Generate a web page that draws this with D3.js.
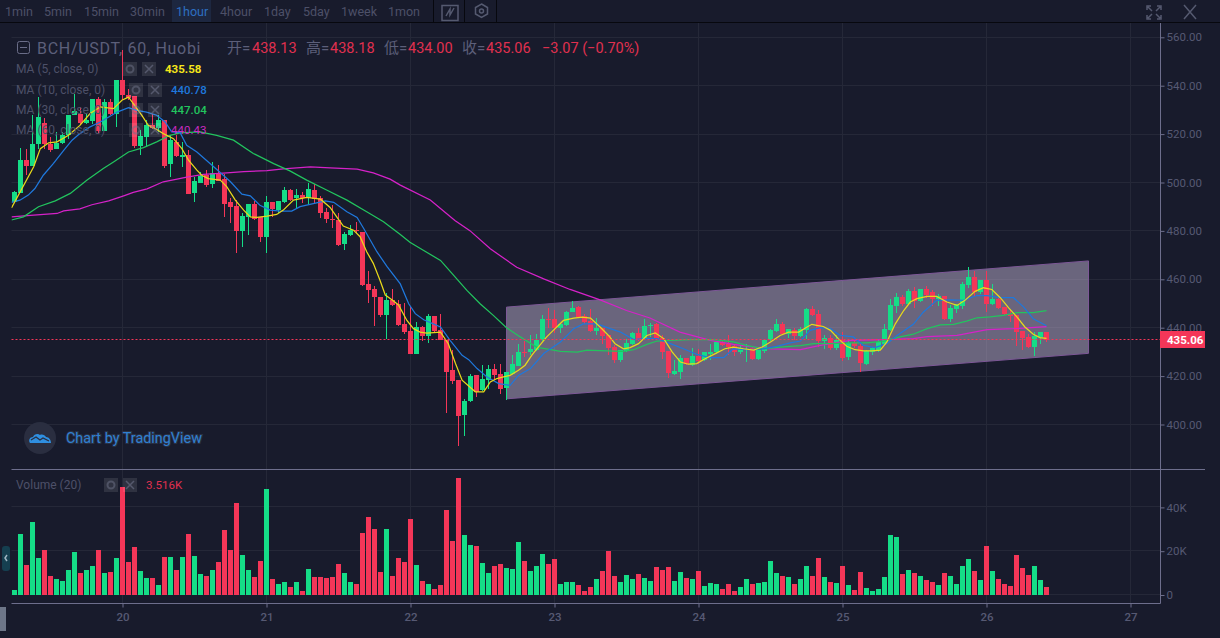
<!DOCTYPE html>
<html>
<head>
<meta charset="utf-8">
<title>BCH/USDT</title>
<script src="https://d3js.org/d3.v7.min.js"></script>
<style>
html, body { margin: 0; padding: 0; background: #181b2c; overflow: hidden; }
svg { display: block; }
text { font-family: Roboto, "Noto Sans CJK SC", sans-serif; }
</style>
</head>
<body>
<div id="chart"></div>
<script>
// hourly candles, bar 0 is the first one on the left
var opens = [
  492.0,495.7,509.2,506.7,516.1,524.7,516.1,513.7,516.4,519.5,
  528.0,528.5,524.6,525.4,534.4,521.3,533.3,528.5,542.2,536.0,
  535.6,515.0,518.8,523.6,522.7,526.0,507.6,516.9,510.6,511.3,
  495.5,500.0,503.0,499.2,504.0,501.6,491.9,490.2,480.1,485.8,
  491.1,485.6,477.6,491.9,488.6,491.9,496.8,493.4,494.8,493.5,
  497.1,493.5,487.8,485.1,484.7,474.6,478.3,480.2,479.7,457.9,
  455.9,452.6,445.3,451.5,449.7,441.4,438.5,429.3,440.1,436.4,
  444.7,438.9,435.1,422.4,418.3,403.8,409.6,420.3,414.2,418.3,
  422.8,420.8,415.0,420.8,424.1,429.8,429.8,430.7,434.8,443.8,
  443.8,440.0,441.0,446.3,448.4,444.9,442.6,438.5,439.7,436.8,
  431.9,426.5,430.2,433.1,437.7,435.2,440.5,441.4,435.6,430.2,
  420.8,421.6,427.4,424.5,428.2,426.5,429.0,429.8,434.0,433.1,
  432.3,429.8,430.7,431.5,426.9,430.2,434.8,438.5,441.4,437.3,
  438.9,436.4,438.9,447.8,445.5,434.5,435.6,431.5,434.8,427.8,
  433.5,432.3,424.9,429.8,430.9,433.1,438.9,448.8,452.5,449.6,
  455.0,450.9,455.8,454.6,451.7,453.3,443.4,447.6,448.8,457.5,
  460.8,454.6,459.9,449.6,451.7,448.4,445.8,445.1,438.5,436.0,
  431.9,436.0,438.13
];
var highs = [
  496.5,514.3,513.7,527.8,535.3,526.8,518.8,520.9,520.9,528.0,
  536.4,531.2,528.5,534.6,535.3,534.6,534.6,542.2,554.6,538.8,
  535.6,521.6,525.7,528.2,527.8,526.0,519.5,519.5,516.8,513.3,
  502.3,504.4,505.1,508.5,507.1,503.7,493.4,492.7,487.2,491.3,
  492.3,485.6,494.4,491.9,492.3,498.2,497.4,497.5,496.2,499.6,
  499.3,494.6,489.3,490.6,487.2,479.7,482.4,483.8,479.7,463.4,
  457.3,452.6,454.2,456.0,451.5,450.4,448.5,442.3,440.5,445.5,
  444.7,445.5,435.1,430.9,418.3,410.5,420.8,420.3,424.5,424.5,
  424.9,424.9,421.6,428.6,433.1,434.4,436.8,437.3,445.1,448.2,
  447.4,441.6,447.1,450.9,448.8,445.5,447.8,444.1,440.0,436.8,
  432.7,430.9,435.5,438.2,440.0,443.7,441.9,441.9,436.8,430.2,
  426.5,428.6,427.4,431.5,431.3,429.8,433.1,434.4,434.8,436.8,
  433.1,432.7,433.1,432.0,430.9,435.1,439.6,443.4,442.2,439.6,
  439.9,440.3,448.1,448.8,447.4,436.8,436.8,436.8,438.1,434.8,
  434.8,433.7,430.7,432.0,434.8,441.6,451.7,454.2,453.5,455.8,
  457.0,456.1,457.2,455.4,454.0,453.3,449.2,449.9,458.7,464.9,
  463.6,459.9,463.6,457.9,452.9,448.4,447.4,445.1,438.5,437.5,
  438.2,438.1,438.18
];
var lows = [
  491.7,495.7,503.0,506.7,514.0,513.7,512.6,513.7,516.1,518.1,
  527.8,523.6,524.3,524.3,520.2,521.3,527.8,523.0,534.0,534.0,
  514.4,511.3,514.7,522.3,520.9,505.8,502.3,510.6,506.5,495.3,
  492.0,499.6,498.2,497.9,500.5,485.8,483.4,470.7,473.5,478.3,
  484.7,475.5,470.7,485.6,487.2,491.6,492.4,488.9,491.6,491.1,
  491.1,485.3,483.1,481.3,473.9,472.1,478.0,479.0,457.4,450.4,
  440.5,444.6,435.3,449.0,440.5,437.5,429.0,429.0,434.5,433.7,
  438.2,434.8,404.8,416.9,391.1,395.2,409.3,411.4,413.9,414.8,
  418.3,412.5,410.0,420.3,424.1,427.9,428.6,430.4,434.5,440.0,
  437.9,437.9,440.8,446.3,444.1,441.6,438.2,436.8,433.1,428.9,
  425.4,425.7,429.8,432.7,434.5,435.1,436.2,434.8,426.9,419.2,
  420.6,418.8,424.5,424.1,425.2,426.1,426.8,429.3,432.3,428.6,
  428.2,429.3,425.8,426.5,426.5,429.6,434.5,438.2,437.0,435.6,
  434.8,436.2,435.5,444.7,432.0,431.2,430.9,430.9,426.1,426.5,
  431.5,421.6,424.7,428.9,430.0,432.7,438.5,446.0,448.8,449.3,
  448.0,450.6,452.4,448.8,448.8,443.3,442.2,446.2,447.6,456.6,
  452.9,453.9,446.3,449.5,447.8,445.1,442.3,432.3,430.7,431.8,
  428.2,433.1,434.00
];
var closes = [
  496.2,509.2,506.7,516.1,527.1,515.8,513.3,516.4,519.5,528.0,
  529.5,524.6,525.7,534.4,521.3,533.3,528.5,542.2,536.0,535.1,
  515.1,519.1,523.6,522.7,525.7,506.9,517.5,510.9,511.3,495.3,
  500.5,502.7,498.9,504.0,500.5,491.3,489.7,480.1,486.1,491.3,
  485.1,477.6,491.9,488.9,492.3,496.8,492.7,494.8,493.4,497.2,
  493.1,487.4,484.9,484.5,474.2,478.7,480.3,479.8,457.7,455.6,
  452.8,445.3,451.5,449.4,441.2,438.1,429.3,440.1,436.4,444.7,
  438.5,435.1,421.6,417.9,403.4,409.6,419.9,413.5,418.7,422.8,
  420.3,414.6,421.6,424.9,429.8,429.4,431.1,434.8,443.8,443.4,
  440.0,441.4,446.3,448.2,444.4,442.2,438.5,439.7,436.4,431.5,
  426.5,430.7,433.5,437.7,434.8,440.5,441.0,435.2,430.1,421.2,
  422.0,427.4,424.9,428.2,426.1,429.8,429.8,434.0,432.7,431.9,
  429.8,431.5,431.1,426.9,430.7,434.8,438.9,441.4,437.3,439.3,
  436.4,439.3,447.6,445.1,434.4,435.6,431.5,434.8,427.4,433.5,
  432.3,425.3,430.2,431.5,434.0,439.3,449.2,452.5,449.6,455.0,
  450.9,455.8,453.7,451.7,453.3,443.4,448.0,449.6,457.9,460.8,
  454.6,459.9,449.8,451.7,448.0,445.5,444.7,438.1,435.6,431.9,
  436.4,438.1,435.06
];
// volume in thousands
var volumes = [
  2.3,27.7,13.6,33.2,16.8,20.5,8.6,7.3,6.4,11.4,
  19.5,10,11.4,13.2,20.5,10,10.5,16.8,49.5,15,
  21.8,10.9,7.7,7.7,4.5,17.3,17.3,11.4,17.3,27.7,
  17.7,9.5,8.6,11.4,15,29.5,20.5,41.8,18.2,11.4,
  8.2,15.5,48.2,7.3,5,5.9,3.6,5.9,1.8,11.8,
  8.2,8.2,7.7,8.2,14.1,10,5.9,5,28.2,35.5,
  30,10.5,30,8.6,16.8,15,34.5,13.6,6.4,5,
  2.7,4.5,38.6,24.5,53.2,27.3,22.7,22.3,14.5,10,
  13.2,14.1,12.3,11.8,24.1,15.5,10.9,13.2,18.6,14.1,
  16.4,5,5.9,5.9,4.5,1.8,3.6,7.3,10.9,20,
  8.6,5.9,9.1,7.3,9.5,7.7,6.4,12.7,11.4,12.7,
  6.4,10.5,7.7,7.3,10.9,4.1,5.5,5,2.7,5,
  1.8,3.6,7.3,5,5.5,5.9,15.5,10,8.6,8.2,
  5,7.3,13.2,8.6,16.8,8.2,5.9,5.5,13.2,4.5,
  2.3,10.5,3.2,1.8,2.7,8.2,27.3,26.4,9.5,11.4,
  10,8.6,6.8,5.9,4.5,10,8.6,5,13.2,16.4,
  10.9,6.8,22.3,10.9,7.3,5,4.1,18.2,12.3,9.1,
  13.2,6.8,3.516
];

// moving averages: bar position + price
var ma5Bars = [-0.5,3.2,4.3,5.7,7.1,9,10.9,12.6,14.3,16.5,17.9,19,19.8,21.2,22.3,23.7,24.8,26.5,27.9,29,30.4,31.2,32.3,34.3,35.4,36.8,38.2,39.3,40.4,42.1,43.7,44.8,46.5,48.7,51,52.6,53.7,54.8,56.5,57.6,58.7,59.8,60.9,61.8,62.9,64,65.4,66.5,67.6,68.7,71,72.3,73.5,74.6,75.7,76.8,78.2,79.3,80.4,81.5,82.6,84,85.1,86.2,87.3,88.7,90.1,91.5,93.2,94.6,96,97.6,99,100.1,101.5,102.6,104,105.4,106.8,108.2,109.6,111,112.3,113.7,115.1,116.8,118.4,119.8,121.5,123.2,124.6,126,127.6,129,130.7,132.1,132.9,133.7,134.8,136,137.3,138.7,140.1,141.5,142.9,144.3,145.4,146.8,148.2,149.3,150.4,152.1,153.7,155.4,157.1,158.4,160.1,161.5,162.9,164.3,165.7,167.1,168.4,169.8,170.9,172];
var ma5Vals = [489.5,506.5,514,516.4,516.8,519.5,523.6,528.5,531.2,530.5,534,535.3,532.6,527.8,523.6,521.9,520.2,518.1,514,509.2,505.1,503,501.6,501,498.2,492.7,488.6,485.8,485.6,486.1,486.8,488.6,492.7,493.8,493.1,489.7,485.8,482,480.3,477.6,471.4,466.6,459.7,453.5,451.5,449.4,443,439.6,438.2,437.8,438.2,433.4,425.2,418.3,415.9,413.5,413.5,417.6,419,419.7,420.3,422.4,424.5,428.6,432,436.2,439.6,443,444,444.4,444,440.3,436.8,433.4,431.3,431.8,433.4,436.8,437.8,435.5,430,425.8,424.9,425.2,427.2,429.3,431.3,432,431.3,430.7,432,434.1,436.8,438.2,438.2,440.3,441.4,441,440.5,438.9,435.5,432.3,430.9,430.4,430.4,430.7,434.1,441.6,447.1,450.6,452,452.9,452.9,450.6,449.2,451.3,455,456.5,455.8,452.4,448.2,444.4,440.3,437.3,435.9,435.58];

var ma10Bars = [-0.5,0.9,2.3,3.4,4.8,6.5,8.2,9.6,10.9,12.6,14.3,15.7,17.1,19,20.4,22,23.7,25.1,26.2,27.6,28.7,30.4,33.2,36,37.9,39.3,40.9,42.6,44.3,46.2,47.6,49.8,51.8,53.2,55.4,57.1,58.2,60.4,62.1,64.3,65.7,66.8,68.2,69.8,71,72.6,74.6,75.7,77.1,78.7,80.7,82.6,84,86,88.2,91,93.2,94.8,97.1,99.3,101,103.2,104.8,107.1,109.3,111.5,113.7,115.9,118.2,119.8,122,124.8,127,129.3,131,132.6,134.3,136,137.6,139.8,141.5,143.4,145.4,147.1,149.8,151.5,153.7,155.9,158.2,160.4,162.1,164.3,166.5,168.2,169.8,172];
var ma10Vals = [491.8,492.7,494.8,497.5,503,507.9,513.3,517.5,520.2,523,525,527.1,529.1,530.9,529.8,529.1,527.8,525,520.9,520.6,515.4,512.6,506.5,500.3,495.2,494.5,490.6,488.6,488.2,488.2,490,491.3,492.4,491.8,487.9,485.6,481,471.4,465.2,458.1,449.9,445.8,443.3,441.6,440.3,434.8,428.6,426.8,423.1,419.7,416.9,416.2,420.3,423.1,429.3,434.1,439.6,441.6,441.6,439.6,438.2,435.1,435.5,435.5,433.4,431.3,429,427.6,427.6,431.3,430.9,431.3,432.3,433.7,434.5,438.9,440,439.6,436.8,436.2,432.7,431.8,433.4,436.8,441.4,446.5,451.3,451.5,451.3,453.3,453.3,452.4,452.4,448.5,443.7,440.78];

var ma30Bars = [-0.5,1.5,4,6.8,9.3,12.1,14.8,16.5,19,21.5,23.7,25.9,27.6,30.9,33.7,36.5,39.8,43.2,45.9,48.7,52.1,55.4,58.7,61.5,64.3,65.9,68.2,71,73.2,75.4,77.6,79.8,82,84.3,87,91,93.8,95.4,98.7,101.5,103.2,105.4,107.1,109.3,112.6,116.5,119.8,122,124.8,127.6,131,133.2,136,139.3,142.1,144.9,147.6,149.8,152.1,154.3,156.5,158.7,160.4,162.6,164.8,167.1,169.8,172];
var ma30Vals = [484.5,485.8,490,492.4,495.5,501,505.8,508.5,512.6,514.4,516.8,519.5,520.5,520.9,519.5,517.5,512,507.8,504.8,501,496.8,492.7,487.9,483.8,478.5,475.3,471.9,467.8,461.6,455.4,449.9,445.1,440,436.2,432,430.2,429.9,430.7,430.4,430.2,430.9,433.1,434.5,434.8,435.1,435.1,434.1,432.7,431.3,432,432.6,433.4,433.4,433.7,433.7,434.5,436.2,437.3,439.6,441.2,441.4,442.7,444.1,444.5,445.1,446.2,446.2,447.04];

var ma60Bars = [-0.5,3.2,7.1,8.2,10.9,12.9,15.7,18.2,19.8,22.1,24.8,27.1,28.7,31.5,35.4,38.2,42.1,44.8,49.3,52.6,57.1,59.8,62.6,64.3,69.3,73.4,75.9,79.3,83.7,88.2,92.6,97.6,102,105.9,110.9,116,119.8,123.2,126,131,134.3,139.3,144.9,149.8,152.1,157.1,162.1,166.5,172];
var ma60Vals = [485.8,486.5,487.2,488.3,489.1,490.8,492.4,494.5,495.9,497.4,500.3,501.4,502.2,503.4,504,504.5,504.9,505.6,506.5,506,505.5,504,501.4,498.9,492.8,484.3,480.1,472.6,465,460.2,455.8,451.5,447.1,444,438.2,434.8,433.1,432,431.3,430.9,432.7,434.8,435.1,435.5,436.3,436.8,439.2,439.6,440.43];

// parallel channel drawn by the user: bar position + price
var channelBars = [82, 179, 179, 82];
var channelPrices = [448.5, 467.6, 429.4, 410.6];

var priceTicks = [400, 420, 440, 460, 480, 500, 520, 540, 560];
var volumeTicks = [0, 20, 40];
var dayBars = [18, 42, 66, 90, 114, 138, 162, 186];
var dayLabels = ["20", "21", "22", "23", "24", "25", "26", "27"];
var lastPrice = 435.06;

var intervals = ["1min", "5min", "15min", "30min", "1hour", "4hour", "1day", "5day", "1week", "1mon"];
var intervalX = [5, 44, 84, 130, 176, 220, 264, 303, 341, 388];

var width = 1220;
var height = 638;
var left = 11.5;
var right = 1160.5;
var toolbar = 22.5;
var paneLine = 469.5;
var bottomLine = 603.5;

var green = "#15dd87";
var red = "#f43658";
var bg = "#181b2c";
var gridColor = "#252838";
var axisColor = "#6d6e8c";
var textColor = "#565973";

var svg = d3.select("#chart").append("svg")
    .attr("width", width)
    .attr("height", height);

svg.append("rect").attr("width", width).attr("height", height).attr("fill", bg);

var xScale = d3.scaleLinear().domain([0, 172]).range([14.5, 1046.5]);
var yScale = d3.scaleLinear().domain([400, 560]).range([424.5, 37.3]);
var volScale = d3.scaleLinear().domain([0, 40]).range([595, 507.4]);

function barX(i) { return Math.floor(xScale(i)) + 0.5; }
function snap(v) { return Math.floor(v) + 0.5; }

var defs = svg.append("defs");
defs.append("clipPath").attr("id", "priceClip").append("rect")
    .attr("x", left).attr("y", toolbar).attr("width", right - left).attr("height", paneLine - toolbar);

// grid
var grid = svg.append("g").attr("stroke", gridColor).attr("stroke-width", 1);
grid.selectAll(".vgrid").data(dayBars).enter().append("line")
    .attr("x1", barX).attr("x2", barX)
    .attr("y1", toolbar).attr("y2", bottomLine);
grid.selectAll(".hgrid").data(priceTicks).enter().append("line")
    .attr("x1", left).attr("x2", right)
    .attr("y1", function(d) { return snap(yScale(d)); })
    .attr("y2", function(d) { return snap(yScale(d)); });
grid.selectAll(".vhgrid").data(volumeTicks).enter().append("line")
    .attr("x1", left).attr("x2", right)
    .attr("y1", function(d) { return snap(volScale(d)) - 1; })
    .attr("y2", function(d) { return snap(volScale(d)) - 1; });

// channel goes under the candles
svg.append("polygon")
    .attr("points", channelBars.map(function(b, i) {
        return xScale(b) + "," + yScale(channelPrices[i]);
    }).join(" "))
    .attr("fill", "#c4b6d6")
    .attr("fill-opacity", 0.48)
    .attr("stroke", "#7d5897")
    .attr("stroke-width", 1);

// volume bars
svg.append("g").attr("shape-rendering", "crispEdges")
    .selectAll("rect").data(volumes).enter().append("rect")
    .attr("x", function(d, i) { return barX(i) - 2.5; })
    .attr("y", function(d) { return Math.round(volScale(d)); })
    .attr("width", 5)
    .attr("height", function(d) { return 595 - Math.round(volScale(d)); })
    .attr("fill", function(d, i) { return closes[i] >= opens[i] ? green : red; });

// candles
var candles = svg.append("g").attr("clip-path", "url(#priceClip)").attr("shape-rendering", "crispEdges");
candles.selectAll("line").data(opens).enter().append("line")
    .attr("x1", function(d, i) { return barX(i); })
    .attr("x2", function(d, i) { return barX(i); })
    .attr("y1", function(d, i) { return yScale(highs[i]); })
    .attr("y2", function(d, i) { return yScale(lows[i]); })
    .attr("stroke", function(d, i) { return closes[i] >= opens[i] ? green : red; });
candles.selectAll("rect").data(opens).enter().append("rect")
    .attr("x", function(d, i) { return barX(i) - 2.5; })
    .attr("y", function(d, i) { return yScale(Math.max(opens[i], closes[i])); })
    .attr("width", 5)
    .attr("height", function(d, i) { return Math.max(1, Math.abs(yScale(opens[i]) - yScale(closes[i]))); })
    .attr("fill", function(d, i) { return closes[i] >= opens[i] ? green : red; });

// moving averages
function drawMa(bars, vals, color) {
    var line = d3.line()
        .x(function(d, i) { return xScale(bars[i]); })
        .y(function(d) { return yScale(d); });
    svg.append("path")
        .attr("clip-path", "url(#priceClip)")
        .attr("d", line(vals))
        .attr("fill", "none")
        .attr("stroke", color)
        .attr("stroke-width", 1.25);
}
drawMa(ma60Bars, ma60Vals, "#d522c8");
drawMa(ma30Bars, ma30Vals, "#22c45e");
drawMa(ma10Bars, ma10Vals, "#1f78dc");
drawMa(ma5Bars, ma5Vals, "#e8d91a");

// last price line
svg.append("line")
    .attr("x1", left).attr("x2", right)
    .attr("y1", snap(yScale(lastPrice))).attr("y2", snap(yScale(lastPrice)))
    .attr("stroke", red).attr("stroke-width", 1).attr("stroke-dasharray", "2,2");

// axes
function styleAxis(g) {
    g.select(".domain").remove();
    g.selectAll(".tick line").attr("stroke", axisColor);
    g.selectAll(".tick text").attr("fill", textColor).attr("font-size", 11.5);
}
svg.append("g")
    .attr("transform", "translate(" + right + ",0)")
    .call(d3.axisRight(yScale).tickValues(priceTicks).tickFormat(d3.format(".2f")).tickSize(4).tickPadding(2))
    .call(styleAxis);
svg.append("g")
    .attr("transform", "translate(" + right + ",0)")
    .call(d3.axisRight(volScale).tickValues(volumeTicks).tickFormat(function(d) { return d ? d + "K" : "0"; }).tickSize(4).tickPadding(2))
    .call(styleAxis);
svg.append("g")
    .attr("transform", "translate(0," + bottomLine + ")")
    .call(d3.axisBottom(xScale).tickValues(dayBars).tickFormat(function(d, i) { return dayLabels[i]; }).tickSize(4).tickPadding(5))
    .call(styleAxis)
    .selectAll(".tick text").attr("font-weight", 500);

// frame lines
svg.append("line").attr("x1", right).attr("x2", right).attr("y1", toolbar).attr("y2", bottomLine).attr("stroke", axisColor);
svg.append("line").attr("x1", left).attr("x2", right).attr("y1", bottomLine).attr("y2", bottomLine).attr("stroke", axisColor);
svg.append("line").attr("x1", left).attr("x2", 1205).attr("y1", paneLine).attr("y2", paneLine).attr("stroke", axisColor);

// price tag
svg.append("rect").attr("x", 1160).attr("y", 331).attr("width", 45).attr("height", 17).attr("fill", red);
svg.append("text").attr("x", 1167).attr("y", 344).attr("fill", "#fff")
    .attr("font-size", 11.5).attr("font-weight", 700).text(lastPrice.toFixed(2));

// toolbar
svg.append("rect").attr("x", 172).attr("y", 0).attr("width", 39).attr("height", 22).attr("fill", "#1d2740");
svg.append("line").attr("x1", 0).attr("x2", width).attr("y1", 22.5).attr("y2", 22.5).attr("stroke", "#07080e");
svg.selectAll(".interval").data(intervals).enter().append("text")
    .attr("x", function(d, i) { return intervalX[i]; })
    .attr("y", 16)
    .attr("font-size", 12.5)
    .attr("fill", function(d) { return d === "1hour" ? "#2d6fc0" : "#4d5068"; })
    .text(function(d) { return d; });
svg.selectAll(".sep").data([433.5, 464.5, 496.5]).enter().append("line")
    .attr("x1", function(d) { return d; }).attr("x2", function(d) { return d; })
    .attr("y1", 0).attr("y2", 22).attr("stroke", "#07080e");
var iconColor = "#555a70";
svg.append("path").attr("d", "M442 5.5h16v15h-16z M446 16l4-7v6l4-7").attr("fill", "none").attr("stroke", iconColor).attr("stroke-width", 1.5);
svg.append("path").attr("d", "M481.5 4l6 3.5v6.5l-6 3.5l-6-3.5v-6.5z").attr("fill", "none").attr("stroke", iconColor).attr("stroke-width", 1.5);
svg.append("circle").attr("cx", 481.5).attr("cy", 11).attr("r", 2).attr("fill", "none").attr("stroke", iconColor).attr("stroke-width", 1.5);
svg.append("path").attr("d", "M1147 10v-4h4 M1157 6h4v4 M1161 15v4h-4 M1151 19h-4v-4 M1148 7l4 4 M1160 7l-4 4 M1160 18l-4-4 M1148 18l4-4").attr("fill", "none").attr("stroke", iconColor).attr("stroke-width", 1.5);
svg.append("path").attr("d", "M1184 5l12 14 M1196 5l-12 14").attr("fill", "none").attr("stroke", iconColor).attr("stroke-width", 1.5);

// header
svg.append("rect").attr("x", 17.5).attr("y", 41.5).attr("width", 12).attr("height", 12).attr("rx", 2).attr("fill", "none").attr("stroke", "#6a6d88");
svg.append("line").attr("x1", 20).attr("x2", 27).attr("y1", 47.5).attr("y2", 47.5).attr("stroke", "#6a6d88");
svg.append("text").attr("x", 37).attr("y", 54).attr("font-size", 16).attr("letter-spacing", 0.7).attr("fill", "#5c5f7a").text("BCH/USDT, 60, Huobi");

var headerLabels = ["开=", "高=", "低=", "收="];
var headerLabelX = [227, 306, 384, 462];
var headerValues = ["438.13", "438.18", "434.00", "435.06"];
var headerValueX = [252, 330, 408, 486];
svg.selectAll(".hlabel").data(headerLabels).enter().append("text")
    .attr("x", function(d, i) { return headerLabelX[i]; }).attr("y", 53)
    .attr("font-size", 15).attr("fill", "#5c5f7a")
    .text(function(d) { return d; });
svg.selectAll(".hvalue").data(headerValues).enter().append("text")
    .attr("x", function(d, i) { return headerValueX[i]; }).attr("y", 53)
    .attr("font-size", 14.5).attr("fill", "#e0304f")
    .text(function(d) { return d; });
svg.append("text").attr("x", 542).attr("y", 53).attr("font-size", 14.5).attr("fill", "#e0304f").text("−3.07 (−0.70%)");

// indicator legend
var legendNames = ["MA (5, close, 0)", "MA (10, close, 0)", "MA (30, close, 0)", "MA (60, close, 0)", "Volume (20)"];
var legendY = [73, 94, 114, 134, 489];
var legendGearX = [123, 129, 129, 129, 104];
var legendCloseX = [142, 148, 148, 148, 123];
var legendValues = ["435.58", "440.78", "447.04", "440.43", "3.516K"];
var legendValueX = [165, 171, 171, 171, 146];
var legendColors = ["#f5e61a", "#1f78dc", "#22c45e", "#c92bc0", "#e0304f"];
var legendWeights = [700, 500, 500, 400, 400];

var legend = svg.append("g");
legendNames.forEach(function(name, i) {
    var y = legendY[i];
    legend.append("text").attr("x", 16).attr("y", y).attr("font-size", 12).attr("fill", "#4d5068").text(name);
    legend.append("rect").attr("x", legendGearX[i]).attr("y", y - 11).attr("width", 14).attr("height", 14).attr("fill", "#ffffff").attr("fill-opacity", 0.1);
    legend.append("circle").attr("cx", legendGearX[i] + 7).attr("cy", y - 4).attr("r", 3.5).attr("fill", "none").attr("stroke", "#70738a").attr("stroke-opacity", 0.5).attr("stroke-width", 2);
    legend.append("rect").attr("x", legendCloseX[i]).attr("y", y - 11).attr("width", 14).attr("height", 14).attr("fill", "#ffffff").attr("fill-opacity", 0.1);
    legend.append("path")
        .attr("d", "M" + (legendCloseX[i] + 3) + " " + (y - 8) + "l8 8 M" + (legendCloseX[i] + 11) + " " + (y - 8) + "l-8 8")
        .attr("stroke", "#70738a").attr("stroke-opacity", 0.6).attr("stroke-width", 1.5);
    legend.append("text").attr("x", legendValueX[i]).attr("y", y).attr("font-size", 11.5)
        .attr("font-weight", legendWeights[i]).attr("fill", legendColors[i]).text(legendValues[i]);
});

// watermark
svg.append("circle").attr("cx", 40).attr("cy", 438).attr("r", 16).attr("fill", "#2a2e40");
svg.append("path").attr("d", "M30 443c-2-3 0-6 3-6c1-3 5-4 7-2c2-1 5 0 6 2c3 0 5 3 5 6z").attr("fill", "#2f8fe0");
svg.append("path").attr("d", "M31 440l5-3l4 3l3-2l6 3").attr("fill", "none").attr("stroke", "#2a2e40").attr("stroke-width", 1.3);
svg.append("text").attr("x", 66).attr("y", 443).attr("font-size", 14.4)
    .attr("fill", "#2f80d2").attr("stroke", "#2a3144").attr("stroke-width", 2).attr("paint-order", "stroke")
    .text("Chart by TradingView");

// left side bits
svg.append("rect").attr("x", 2).attr("y", 546).attr("width", 8).attr("height", 25).attr("rx", 3).attr("fill", "#153f50");
svg.append("path").attr("d", "M7 555l-2 3l2 3").attr("fill", "none").attr("stroke", "#9fb6c4").attr("stroke-width", 1.5);
svg.append("rect").attr("x", 0).attr("y", 607).attr("width", 6).attr("height", 24).attr("fill", "#6d7688");
</script>
</body>
</html>
